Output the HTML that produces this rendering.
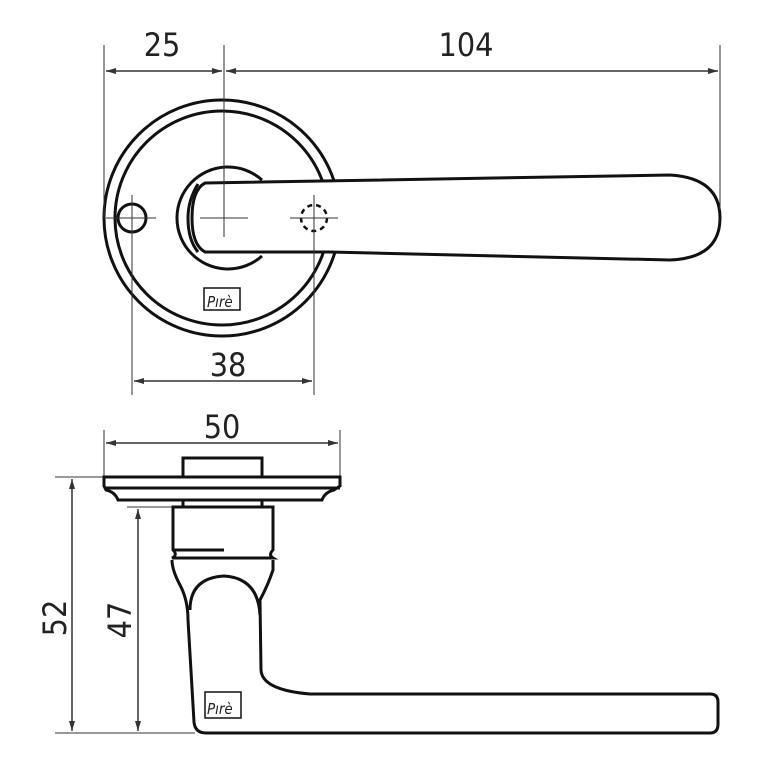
<!DOCTYPE html>
<html><head><style>
html,body{margin:0;padding:0;background:#fff;width:777px;height:777px;overflow:hidden}
text{font-family:"DejaVu Sans Condensed","Liberation Sans",sans-serif;fill:#222}
</style></head><body>
<svg width="777" height="777" viewBox="0 0 777 777" xmlns="http://www.w3.org/2000/svg">
<defs>
<marker id="a" viewBox="0 0 10 6" refX="10" refY="3" markerWidth="10" markerHeight="6" orient="auto-start-reverse" markerUnits="userSpaceOnUse"><path d="M0,0 L10,3 L0,6 Z" fill="#333"/></marker>
</defs>
<g stroke="#111" stroke-width="3" fill="none">
<circle cx="222" cy="218" r="118"/>
<circle cx="222" cy="218" r="107"/>
<circle cx="132" cy="218" r="14"/>
<path d="M262,180 A51,51 0 1 0 262,256"/>
<path d="M198,184 Q188,200 188,218 Q188,240 198,252"/>
<path fill="#fff" d="M205,183 L670,175 Q720,178 720,218 Q720,258 670,260 L330,252 L205,252 Q192,245 192,218 Q192,190 205,183 Z"/>
<circle cx="314" cy="218" r="13" stroke-dasharray="5,4" stroke-width="2.5"/>
</g>
<g stroke="#333" stroke-width="1" fill="none">
<line x1="104" y1="45" x2="104" y2="218"/>
<line x1="224" y1="45" x2="224" y2="237"/>
<line x1="720" y1="45" x2="720" y2="210"/>
<line x1="106" y1="71" x2="222" y2="71" marker-start="url(#a)" marker-end="url(#a)" stroke-width="1.5"/>
<line x1="226" y1="71" x2="718" y2="71" marker-start="url(#a)" marker-end="url(#a)" stroke-width="1.5"/>
<line x1="132" y1="195" x2="132" y2="395"/>
<line x1="314" y1="195" x2="314" y2="395"/>
<line x1="134" y1="381" x2="312" y2="381" marker-start="url(#a)" marker-end="url(#a)" stroke-width="1.5"/>
<line x1="104" y1="430" x2="104" y2="476"/>
<line x1="340" y1="430" x2="340" y2="476"/>
<line x1="106" y1="443" x2="338" y2="443" marker-start="url(#a)" marker-end="url(#a)" stroke-width="1.5"/>
<line x1="55" y1="477" x2="104" y2="477"/>
<line x1="55" y1="733" x2="195" y2="733"/>
<line x1="127" y1="507" x2="172" y2="507"/>
<line x1="72" y1="479" x2="72" y2="731" marker-start="url(#a)" marker-end="url(#a)" stroke-width="1.5"/>
<line x1="138" y1="509" x2="138" y2="731" marker-start="url(#a)" marker-end="url(#a)" stroke-width="1.5"/>
<line x1="106" y1="218" x2="156" y2="218"/>
<line x1="200" y1="218" x2="248" y2="218"/>
<line x1="290" y1="218" x2="338" y2="218"/>
</g>
<g stroke="#111" stroke-width="3" fill="none">
<rect x="183" y="458" width="79" height="19"/>
<path fill="#fff" d="M104,477 L340,477 L340,486 L334,490 Q325,492 322,500 L118,500 Q115,492 106,490 L104,486 Z"/>
<line x1="104" y1="488" x2="340" y2="488"/>
<line x1="183" y1="500" x2="183" y2="506"/><line x1="262" y1="500" x2="262" y2="506"/>
<path d="M173,507 L273,507 L273,550 Q268,555 273,558 L172,558 Q178,555 173,550 Z"/>
<line x1="174" y1="550" x2="224" y2="550"/>
<path d="M172,560 Q172,570 180,585 Q188,600 188,620 L194,722 Q195,733 206,733 L710,733 Q718,733 718,724 L718,702 Q718,694 710,694 L310,694 Q262,690 261,670 L260,600 Q268,585 273,570 L273,560"/>
<path d="M190,610 Q190,578 224,576 Q258,578 260,615"/>
</g>
<g stroke="#111" stroke-width="1.5" fill="none">
<rect x="204" y="288" width="36" height="22"/>
<rect x="205" y="692" width="36" height="26"/>
</g>
<text x="207" y="307" font-size="15" font-style="italic">Pırè</text>
<text x="207" y="714" font-size="15" font-style="italic">Pırè</text>
<g font-size="32">
<text x="162" y="56" text-anchor="middle">25</text>
<text x="466" y="56" text-anchor="middle">104</text>
<text x="228" y="376" text-anchor="middle">38</text>
<text x="222" y="438" text-anchor="middle">50</text>
<text transform="translate(66,618) rotate(-90)" text-anchor="middle">52</text>
<text transform="translate(131,620) rotate(-90)" text-anchor="middle">47</text>
</g>
</svg>
</body></html>
